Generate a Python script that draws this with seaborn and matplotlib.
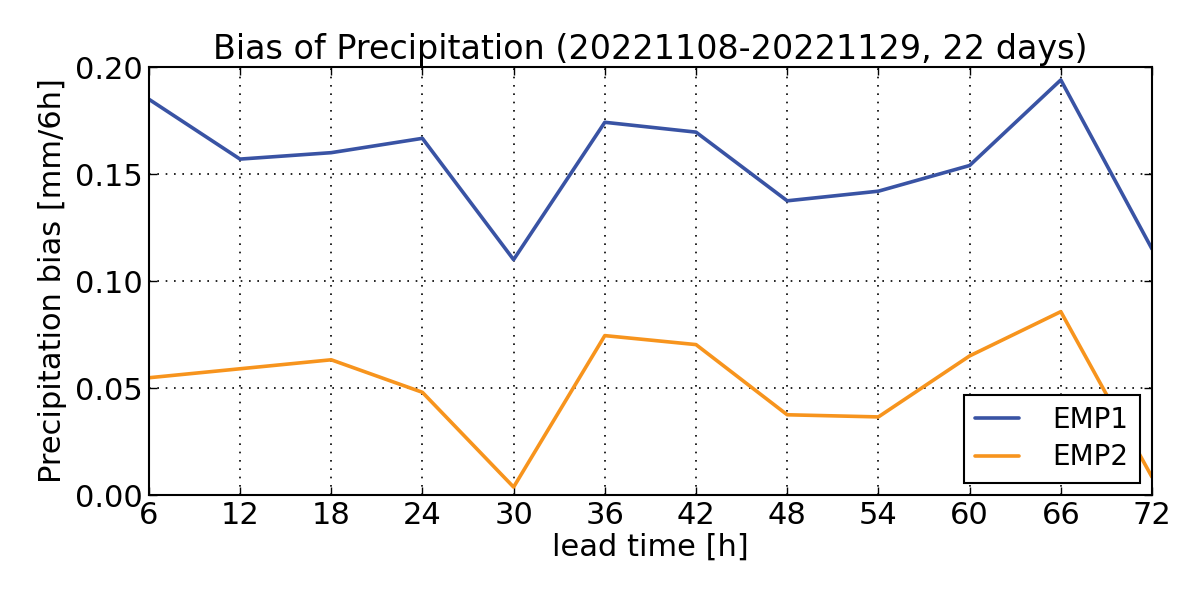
import matplotlib
matplotlib.use("Agg")
import matplotlib.pyplot as plt
import seaborn as sns
import pandas as pd

lead_time = [6, 12, 18, 24, 30, 36, 42, 48, 54, 60, 66, 72]
emp1 = [0.185, 0.157, 0.160, 0.1667, 0.110, 0.1742, 0.1696, 0.1375, 0.142, 0.154, 0.194, 0.115]
emp2 = [0.0548, 0.059, 0.0632, 0.048, 0.0037, 0.0745, 0.0703, 0.0375, 0.0365, 0.065, 0.0857, 0.0084]
series_names = ["EMP1", "EMP2"]
colors = ["#3953a4", "#f7941d"]

df = pd.DataFrame({"lead": lead_time * 2,
                   "bias": emp1 + emp2,
                   "exp": [series_names[0]] * len(lead_time) + [series_names[1]] * len(lead_time)})

sns.set_style("white")
plt.rcParams['font.family'] = ['DejaVu Sans']
plt.rcParams['text.color'] = 'black'

fig = plt.figure(figsize=(12, 5.99), dpi=100)
ax = fig.add_axes([0.124, 0.1736, 0.836, 0.7144])
sns.lineplot(data=df, x="lead", y="bias", hue="exp", palette=colors, linewidth=2.6, ax=ax)

ax.set_xlim(6, 72)
ax.set_ylim(0, 0.2)
ax.set_xticks(lead_time)
ax.set_yticks([0, 0.05, 0.10, 0.15, 0.20])
ax.set_yticklabels(["0.00", "0.05", "0.10", "0.15", "0.20"])
ax.tick_params(direction="in", length=6, width=1, labelsize=22, colors="black", pad=4,
               top=True, right=True, bottom=True, left=True)
ax.grid(True, color="black", linestyle=(0, (1, 4)), linewidth=1.2)
for s in ax.spines.values():
    s.set_color("black")
    s.set_linewidth(1.5)
ax.set_xlabel("lead time [h]", fontsize=22, color="black", labelpad=2)
ax.set_ylabel("Precipitation bias [mm/6h]", fontsize=22, color="black", labelpad=6)
ax.set_title("Bias of Precipitation (20221108-20221129, 22 days)", fontsize=24, color="black", pad=6)
leg = ax.legend(loc="lower right", fontsize=20, frameon=True, fancybox=False,
                edgecolor="black", framealpha=1, borderaxespad=0.45, handlelength=1.6,
                handletextpad=1.2, borderpad=0.4, labelspacing=0.35, labelcolor="black")
leg.get_frame().set_linewidth(1.5)
leg.set_title(None)

fig.savefig("out.png", dpi=100)
